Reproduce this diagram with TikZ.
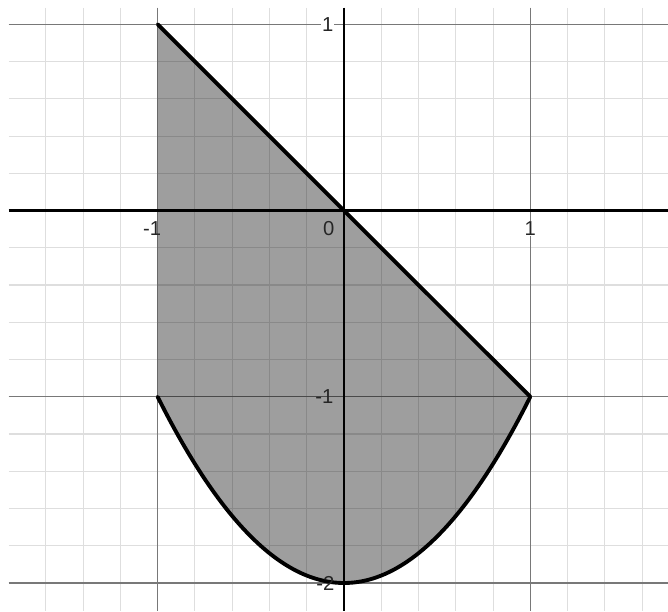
\documentclass[tikz,border=0pt]{standalone}
\usepackage{fontspec}
\setmainfont{Liberation Sans}
\begin{document}
\begin{tikzpicture}[x=3.726cm,y=3.724cm,
  minorgrid/.style={draw={rgb,255:red,222;green,222;blue,222},line width=0.6pt},
  majorgrid/.style={draw={rgb,255:red,120;green,120;blue,120},line width=0.6pt},
  axisline/.style={draw=black,line width=1.3pt},
  curveline/.style={draw=black,line width=2.2pt,line cap=round,line join=round},
  region/.style={fill=black,fill opacity=0.38},
  ticklabel/.style={font=\fontsize{11.5}{13}\selectfont,inner sep=0.5pt,text=black!85}]
\useasboundingbox (-1.846,-2.151) rectangle (1.739,1.1305);
% minor grid
\foreach \i in {-8,...,8} {
  \pgfmathsetmacro{\xx}{\i/5}
  \draw[minorgrid] (\xx,1.09) -- (\xx,-2.151);
}
\foreach \j in {-10,...,5} {
  \pgfmathsetmacro{\yy}{\j/5}
  \draw[minorgrid] (-1.8,\yy) -- (1.739,\yy);
}
% major grid
\foreach \xx in {-1,1} \draw[majorgrid] (\xx,1.09) -- (\xx,-2.151);
\foreach \yy in {1,-1,-2} \draw[majorgrid] (-1.8,\yy) -- (1.739,\yy);
% region
\coordinate (A) at (-1,1);
\coordinate (B) at (1,-1);
\coordinate (C) at (-1,-1);
\fill[region] (A) -- (B) -- plot[domain=1:-1,samples=60,smooth] (\x,{\x*\x-2}) -- cycle;
% axes
\coordinate (xl) at (-1.8,0);
\coordinate (xr) at (1.739,0);
\coordinate (yt) at (0,1.09);
\coordinate (yb) at (0,-2.151);
\draw[axisline] (xl) -- (xr);
\draw[axisline] (yt) -- (yb);
% boundary curves
\draw[curveline] (A) -- (B);
\draw[curveline] plot[domain=-1:1,samples=60,smooth] (\x,{\x*\x-2});
% labels
\node[ticklabel,fill=white,anchor=north] (lx1) at (1,-0.052) {1};
\node[ticklabel,anchor=north] (lxm1) at (-1.03,-0.052) {-1};
\node[ticklabel,anchor=north east] (l0) at (-0.045,-0.052) {0};
\node[ticklabel,fill=white,anchor=east] (ly1) at (-0.05,1) {1};
\node[ticklabel,anchor=east] (lym1) at (-0.05,-1) {-1};
\node[ticklabel,anchor=east] (lym2) at (-0.045,-2) {-2};
\end{tikzpicture}
\end{document}
